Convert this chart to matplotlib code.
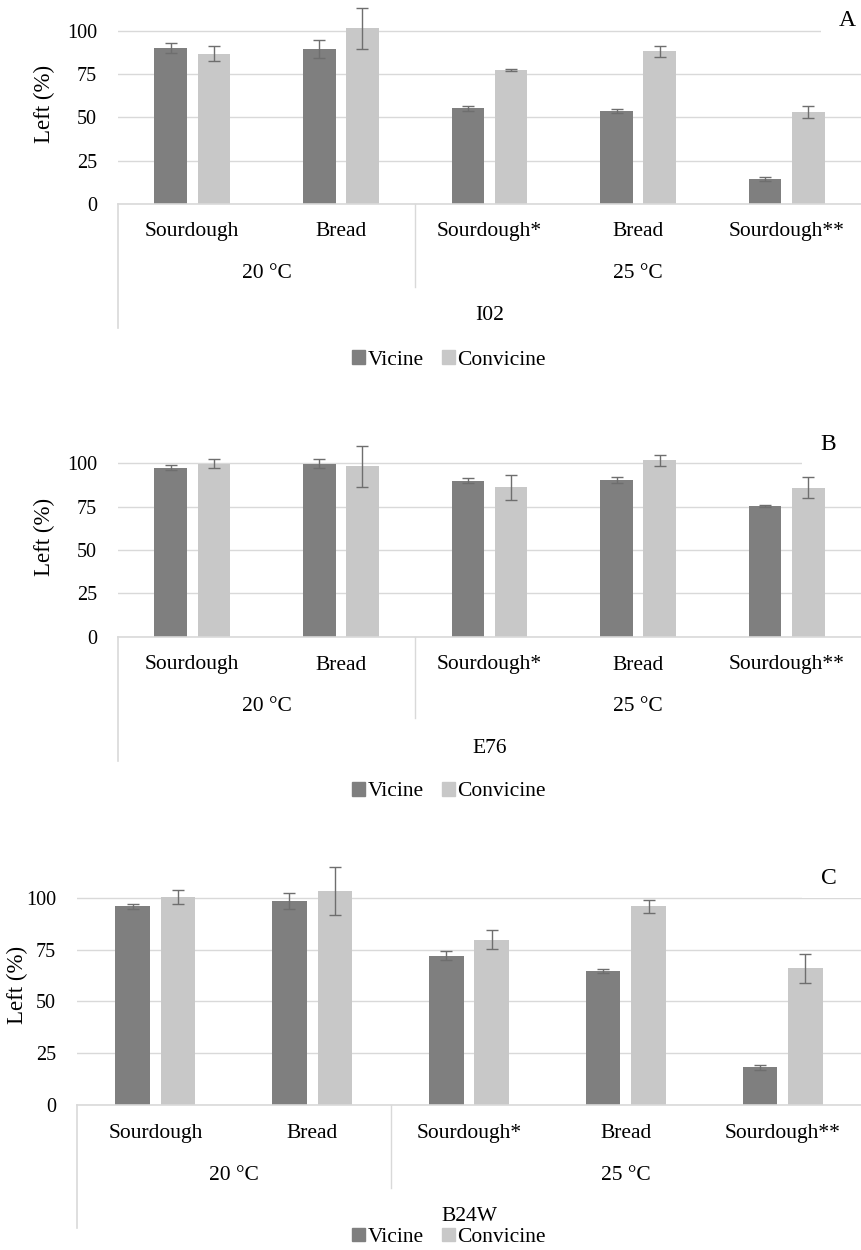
import numpy as np
import matplotlib.pyplot as plt
from matplotlib.patches import Patch, Rectangle
from matplotlib.transforms import blended_transform_factory

plt.rcParams['font.family'] = ['Liberation Serif', 'DejaVu Serif']

categories = ["Sourdough", "Bread", "Sourdough*", "Bread", "Sourdough**"]
temperatures = ["20 °C", "25 °C"]
strains = ["I02", "E76", "B24W"]
letters = ["A", "B", "C"]

# percent left, mean and error for each strain
vicine_I02 = [90.0, 89.4, 55.3, 53.7, 14.4]
vicine_I02_err = [2.8, 5.4, 1.5, 1.3, 1.4]
convicine_I02 = [86.7, 101.3, 77.3, 88.0, 53.2]
convicine_I02_err = [4.3, 11.8, 0.5, 3.4, 3.5]

vicine_E76 = [97.5, 99.8, 90.0, 90.5, 75.4]
vicine_E76_err = [1.3, 2.5, 1.4, 1.6, 0.6]
convicine_E76 = [99.8, 98.3, 86.1, 101.7, 85.9]
convicine_E76_err = [2.7, 11.8, 7.2, 3.1, 6.1]

vicine_B24W = [95.8, 98.4, 72.1, 64.5, 18.1]
vicine_B24W_err = [1.2, 3.9, 2.1, 1.0, 1.4]
convicine_B24W = [100.2, 103.1, 79.8, 95.8, 66.0]
convicine_B24W_err = [3.4, 11.6, 4.7, 3.2, 6.9]

yticks = [0, 25, 50, 75, 100]

W, H = 861, 1250
DARK, LIGHT = '#7f7f7f', '#c8c8c8'
LINE = '#d9d9d9'
ERR = '#6e6e6e'
FS = 15.5        # category / legend text
FS_TICK = 14.5
FS_YLAB = 16.5
FS_LETTER = 17

fig = plt.figure(figsize=(W / 100, H / 100), dpi=100)


def fy(py):
    return 1 - py / H


# pixel layout of each panel: axes box, label rows, letter position
panels = [
    dict(left=118, bottom=204, top=1.2, cat=231.7, grp=273.3, strain=315, leg=360,
         sep_end=286.7, left_end=328, ylab=(44, 104), letter=(847, 21), grid_stop=821,
         data=(vicine_I02, vicine_I02_err, convicine_I02, convicine_I02_err)),
    dict(left=118, bottom=636.7, top=433.8, cat=665, grp=706.7, strain=748.3, leg=791.7,
         sep_end=718, left_end=760.7, ylab=(44, 537), letter=(828, 445), grid_stop=802,
         data=(vicine_E76, vicine_E76_err, convicine_E76, convicine_E76_err)),
    dict(left=77, bottom=1105, top=862.5, cat=1133.3, grp=1175, strain=1216.7, leg=1237.3,
         sep_end=1188, left_end=1228, ylab=(17, 985), letter=(829, 878), grid_stop=802,
         data=(vicine_B24W, vicine_B24W_err, convicine_B24W, convicine_B24W_err)),
]

x = np.arange(len(categories))
bw, off = 0.22, 0.145

for i, p in enumerate(panels):
    ax = fig.add_axes([p['left'] / W, fy(p['bottom']), (W - p['left']) / W,
                       (p['bottom'] - p['top']) / H])
    v, ve, c, ce = p['data']
    ax.bar(x - off, v, bw, color=DARK, zorder=2)
    ax.bar(x + off, c, bw, color=LIGHT, zorder=2)
    ekw = dict(fmt='none', ecolor=ERR, elinewidth=1, capsize=4, capthick=1, zorder=3)
    ax.errorbar(x - off, v, yerr=ve, **ekw)
    ax.errorbar(x + off, c, yerr=ce, **ekw)

    ax.set_xlim(-0.5, len(categories) - 0.5)
    ax.set_ylim(0, 117)
    ax.set_yticks(yticks)
    ax.yaxis.grid(True, color=LINE, lw=1)
    ax.set_axisbelow(True)
    ax.set_xticks([])
    ax.tick_params(axis='y', length=0, pad=15, labelsize=FS_TICK)
    for s in ['top', 'right', 'left']:
        ax.spines[s].set_visible(False)
    ax.spines['bottom'].set_color(LINE)
    ax.spines['bottom'].set_linewidth(1.2)

    tr = blended_transform_factory(ax.transData, fig.transFigure)
    # category, temperature and strain rows under the axis
    for k, name in enumerate(categories):
        fig.text(k, fy(p['cat']), name, transform=tr, ha='center', va='center', fontsize=FS)
    for k, name in enumerate(temperatures):
        xc = 0.5 if k == 0 else 3.0
        fig.text(xc, fy(p['grp']), name, transform=tr, ha='center', va='center', fontsize=FS)
    fig.text(2.0, fy(p['strain']), strains[i], transform=tr, ha='center', va='center',
             fontsize=FS)
    fig.add_artist(plt.Line2D([1.5, 1.5], [fy(p['bottom']), fy(p['sep_end'])],
                              transform=tr, color=LINE, lw=1))
    fig.add_artist(plt.Line2D([-0.5, -0.5], [fy(p['bottom']), fy(p['left_end'])],
                              transform=tr, color=LINE, lw=1.2))

    fig.text(p['ylab'][0] / W, fy(p['ylab'][1]), 'Left (%)', rotation=90,
             ha='center', va='center', fontsize=FS_YLAB)

    # panel letter sits in a white box that hides the end of the top gridline
    lx, ly = p['letter']
    fig.add_artist(Rectangle((p['grid_stop'] / W, fy(ly + 20)), 1 - p['grid_stop'] / W,
                             40 / H, transform=fig.transFigure, facecolor='white',
                             edgecolor='none', zorder=4))
    fig.text(lx / W, fy(ly), letters[i], ha='center', va='center', fontsize=FS_LETTER,
             zorder=5)

    handles = [Patch(color=DARK, label='Vicine'), Patch(color=LIGHT, label='Convicine')]
    fig.legend(handles=handles, loc='center', bbox_to_anchor=(449 / W, fy(p['leg'])),
               ncol=2, frameon=False, fontsize=FS, handlelength=0.6, handleheight=0.6,
               handletextpad=0.12, columnspacing=0.85, borderpad=0)

fig.savefig('out.png', dpi=100)
